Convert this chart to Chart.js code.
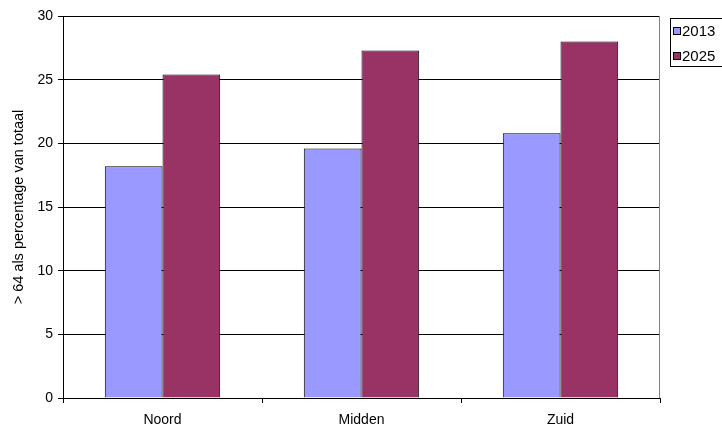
<!DOCTYPE html>
<html>
<head>
<meta charset="utf-8">
<script src="https://cdn.jsdelivr.net/npm/chart.js@4/dist/chart.umd.min.js"></script>
<style>
  html, body { margin: 0; padding: 0; background: #fff; }
  #wrap { width: 722px; height: 430px; position: relative; }
</style>
</head>
<body>
<div id="wrap"><canvas id="chart" width="722" height="430"></canvas></div>
<script>
// data
const regions = ['Noord', 'Midden', 'Zuid'];
const years = ['2013', '2025'];
const values2013 = [18.2, 19.6, 20.8];
const values2025 = [25.4, 27.3, 28.0];
const yTicks = [0, 5, 10, 15, 20, 25, 30];

const colors = ['#9999FF', '#993366'];
const fontFamily = '"Liberation Sans", Arial, sans-serif';

// plot frame on the right side + legend box like the original
const framePlugin = {
  id: 'frame',
  afterDraw(chart) {
    const { ctx, chartArea } = chart;
    ctx.save();
    ctx.strokeStyle = '#808080';
    ctx.lineWidth = 1;
    ctx.beginPath();
    ctx.moveTo(Math.round(chartArea.right) - 0.5, chartArea.top);
    ctx.lineTo(Math.round(chartArea.right) - 0.5, chartArea.bottom);
    ctx.stroke();

    // legend (runs off the right edge in the original)
    const lx = 670.5, ly = 18.5, lw = 70, lh = 48;
    ctx.strokeStyle = '#000';
    ctx.strokeRect(lx, ly, lw, lh);
    ctx.font = '15px ' + fontFamily;
    ctx.textBaseline = 'middle';
    ctx.textAlign = 'left';
    const rows = [31, 56];
    chart.data.datasets.forEach((ds, i) => {
      ctx.fillStyle = ds.backgroundColor;
      ctx.fillRect(673, rows[i] - 4, 8, 8);
      ctx.strokeStyle = '#000';
      ctx.strokeRect(673.5, rows[i] - 3.5, 7, 7);
      ctx.fillStyle = '#000';
      ctx.fillText(ds.label, 682, rows[i] + 1);
    });
    ctx.restore();
  }
};

new Chart(document.getElementById('chart'), {
  type: 'bar',
  data: {
    labels: regions,
    datasets: [
      { label: years[0], data: values2013, backgroundColor: colors[0], borderColor: '#000', borderWidth: 1 },
      { label: years[1], data: values2025, backgroundColor: colors[1], borderColor: '#000', borderWidth: 1 }
    ]
  },
  options: {
    responsive: false,
    animation: false,
    devicePixelRatio: 1,
    layout: { padding: { left: 0, right: 62, top: 16, bottom: 0 } },
    categoryPercentage: 0.58,
    barPercentage: 1.0,
    plugins: {
      legend: { display: false },
      tooltip: { enabled: false }
    },
    scales: {
      x: {
        offset: true,
        grid: {
          offset: true,
          drawOnChartArea: false,
          drawTicks: true,
          tickLength: 5,
          color: '#000'
        },
        border: { color: '#000', width: 1 },
        ticks: {
          color: '#000',
          font: { family: fontFamily, size: 14 },
          padding: 9
        },
        afterFit(axis) { axis.height = 32; }
      },
      y: {
        min: 0,
        max: 30,
        afterBuildTicks(axis) { axis.ticks = yTicks.map(v => ({ value: v })); },
        grid: { color: '#000', tickLength: 5 },
        border: { color: '#000', width: 1 },
        ticks: {
          color: '#000',
          font: { family: fontFamily, size: 14 },
          padding: 5
        },
        title: {
          display: true,
          text: '> 64 als percentage van totaal',
          color: '#000',
          font: { family: fontFamily, size: 14.5 },
          padding: { top: 10, bottom: 10 }
        },
        afterFit(axis) { axis.width = 63; }
      }
    }
  },
  plugins: [framePlugin]
});
</script>
</body>
</html>
